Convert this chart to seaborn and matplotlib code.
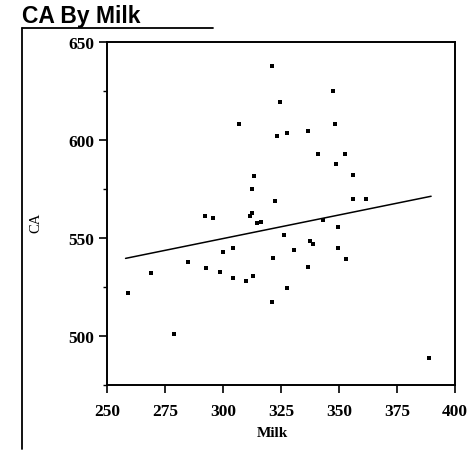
import matplotlib
matplotlib.use("Agg")
import matplotlib.pyplot as plt
from matplotlib.lines import Line2D
from matplotlib.ticker import MultipleLocator
import seaborn as sns
import pandas as pd

milk = [259, 269, 279, 285, 292.7, 298.8, 304.3, 309.8, 300, 304.2,
        292.2, 295.8, 311.6, 312.5, 312.5, 313.3, 306.8, 314.5, 316.4, 312.8,
        321.2, 321.4, 322.5, 321.2, 323.1, 324.7, 326.1, 327.6, 327.8, 330.7,
        336.5, 336.8, 337.6, 338.9, 341.1, 343, 347.5, 348.3, 348.7, 349.7,
        349.7, 352.4, 353.1, 356.2, 356, 361.6, 388.9]
ca = [522, 532, 501, 538, 534.5, 532.5, 529.7, 528.2, 543, 544.7,
      561.4, 560.2, 561, 563, 575, 581.5, 608, 557.5, 558, 530.8,
      517.5, 539.6, 568.7, 637.6, 601.9, 619.4, 551.7, 524.5, 603.6, 543.9,
      535.4, 604.4, 548.6, 547, 592.7, 559, 625, 608.3, 587.6, 555.8,
      545, 592.7, 539.1, 582.3, 570, 570, 488.6]

# fitted line as drawn in the reference
fit_milk = [258, 389.7]
fit_ca = [539.6, 571.3]

x_ticks = [250, 275, 300, 325, 350, 375, 400]
y_ticks = [500, 550, 600, 650]

df = pd.DataFrame({"Milk": milk, "CA": ca})
fit_df = pd.DataFrame({"Milk": fit_milk, "CA": fit_ca})

sns.set_theme(style="ticks")
plt.rcParams["text.color"] = "black"
plt.rcParams["axes.labelcolor"] = "black"
serif = ["Liberation Serif", "DejaVu Serif"]

fig = plt.figure(figsize=(4.70, 4.52), dpi=100)
ax = fig.add_axes([107/470, 1-386/452, (455-107)/470, (386-43)/452])

sns.scatterplot(data=df, x="Milk", y="CA", ax=ax, color="black",
                marker="s", s=10, linewidth=0)
sns.lineplot(data=fit_df, x="Milk", y="CA", ax=ax, color="black",
             linewidth=1.1)

ax.set_xlim(250, 400)
ax.set_ylim(475, 650)
ax.set_xticks(x_ticks)
ax.set_yticks(y_ticks)
ax.yaxis.set_minor_locator(MultipleLocator(25))
for s in ax.spines.values():
    s.set_visible(True)
    s.set_linewidth(1.4)
    s.set_color("black")
ax.tick_params(axis="both", which="major", length=6, width=1.2, pad=3,
               colors="black")
ax.tick_params(axis="y", which="minor", length=3, width=1.0, colors="black")
for lab in ax.get_xticklabels() + ax.get_yticklabels():
    lab.set_family(serif)
    lab.set_fontweight("bold")
    lab.set_fontsize(12.5)
ax.tick_params(axis="x", pad=7)

ax.set_xlabel("Milk", family=serif, fontweight="bold", fontsize=11, color="black")
ax.xaxis.set_label_coords(0.476, -0.12)
ax.set_ylabel("CA", family=serif, fontsize=10.5, color="black")
ax.yaxis.set_label_coords(-0.187, 0.475)

fig.text(22/470, 1-17/452, "CA By Milk", family=["Liberation Sans", "DejaVu Sans"],
         fontweight="bold", fontsize=16.5, va="center", ha="left", color="black")
fig.add_artist(Line2D([22/470, 213/470], [1-29/452, 1-29/452],
                      color="black", linewidth=1.3, transform=fig.transFigure))
fig.add_artist(Line2D([22/470, 22/470], [1-29/452, 1-450/452],
                      color="black", linewidth=1.3, transform=fig.transFigure))

fig.savefig("out.png", dpi=100, facecolor="white")
